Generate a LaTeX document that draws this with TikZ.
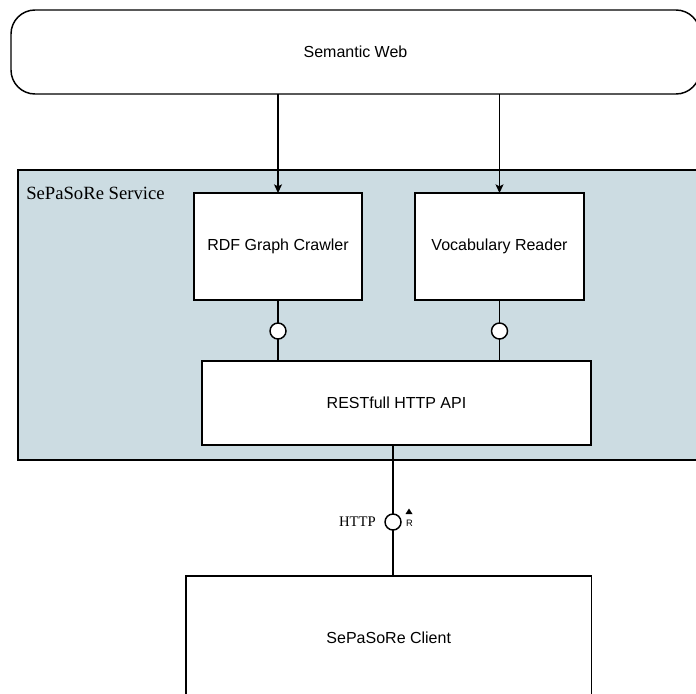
\documentclass[tikz,border=0pt]{standalone}
\usepackage{fontspec}
\setmainfont{Liberation Sans}
\newfontfamily\serifface{Liberation Serif}
\usetikzlibrary{arrows.meta}
\definecolor{servicefill}{RGB}{204,220,226}
\tikzset{
  box/.style={draw=black, line width=1.1pt, fill=white, inner sep=0pt, outer sep=0pt,
    font=\fontsize{12}{14}\selectfont},
  port/.style={circle, draw=black, line width=1.1pt, fill=white, minimum size=12pt, inner sep=0pt, outer sep=0pt},
  link/.style={draw=black, line width=1.1pt},
  flow/.style={draw=black, line width=0.8pt, -{Stealth[length=6.5pt,width=6pt,inset=1.5pt]}},
}
\begin{document}
\begin{tikzpicture}[x=0.75pt, y=-0.75pt]
  \useasboundingbox (0,0) rectangle (696,693);
  \clip (0,0) rectangle (696,693);

  % external source
  \node[box, rounded corners=18pt, minimum width=516.75pt, minimum height=63pt] (web) at (355.5,52) {Semantic Web};

  % service container
  \node[draw=black, line width=1.1pt, fill=servicefill, inner sep=0pt, outer sep=0pt,
        minimum width=515.25pt, minimum height=217.5pt] (service) at (361.5,315) {};
  \node[anchor=base west, inner sep=0pt, font=\serifface\fontsize{14}{16}\selectfont] (servicelabel) at (26,199) {SePaSoRe Service};

  % components
  \node[box, minimum width=126pt, minimum height=80.25pt] (rdf) at (278,246.5) {RDF Graph Crawler};
  \node[box, minimum width=126.75pt, minimum height=80.25pt] (vocab) at (499.5,246.5) {Vocabulary Reader};
  \node[box, minimum width=291.75pt, minimum height=63pt] (api) at (396.5,403) {RESTfull HTTP API};
  \node[box, minimum width=304.1pt, minimum height=93pt] (client) at (388.75,638) {SePaSoRe Client};

  % provided interfaces
  \node[port] (p1) at (278,331) {};
  \node[port] (p2) at (499.5,331) {};
  \node[port] (p3) at (393,522) {};

  % data flow from the web
  \draw[flow] (rdf.north |- web.south) -- (rdf.north);
  \draw[flow] (vocab.north |- web.south) -- (vocab.north);

  % assembly connectors
  \draw[link] (rdf.south) -- (p1);
  \draw[link] (p1) -- (api.north -| p1);
  \draw[link] (vocab.south) -- (p2);
  \draw[link] (p2) -- (api.north -| p2);
  \draw[link] (p3 |- api.south) -- (p3);
  \draw[link] (p3) -- (client.north -| p3);

  % interface labels
  \node[anchor=east, inner sep=0pt, font=\serifface\fontsize{11}{13}\selectfont] (httplabel) at (376,522) {HTTP};
  \node[inner sep=0pt, font=\fontsize{7}{8}\selectfont] (rlabel) at (409.5,523.5) {R};
  \fill[black] (405.5,514) -- (412.5,514) -- (409,508.5) -- cycle;
\end{tikzpicture}
\end{document}
